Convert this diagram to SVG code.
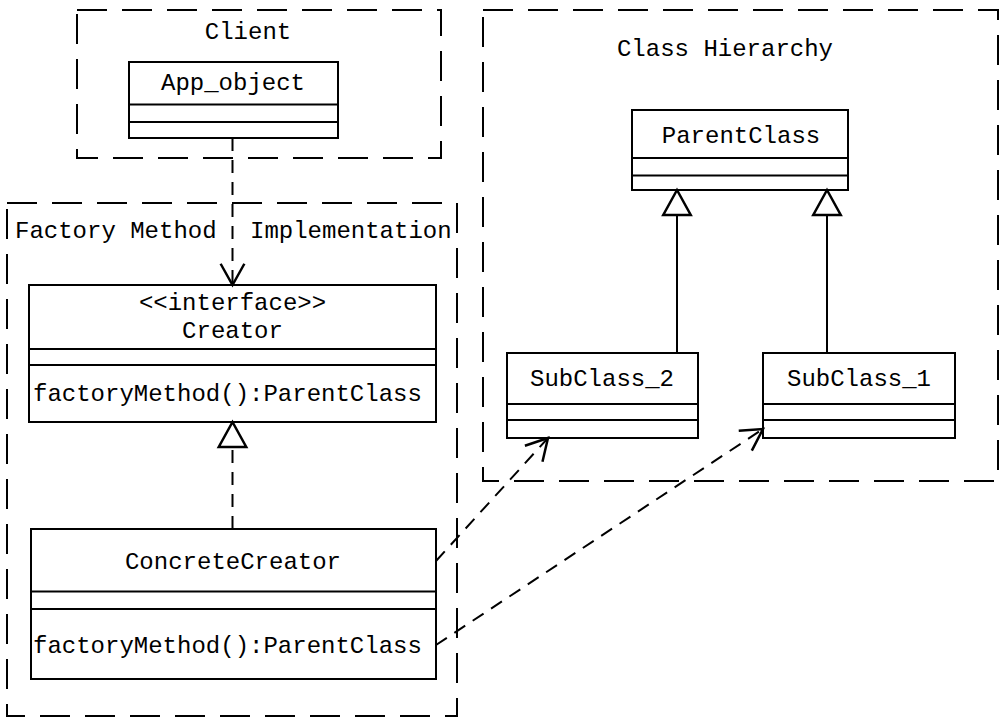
<svg xmlns="http://www.w3.org/2000/svg" width="1002" height="718" viewBox="0 0 1002 718">
<style>
  .frame { fill: none; stroke: #000; stroke-width: 2; stroke-dasharray: 30 15; }
  .box { fill: #fff; stroke: #000; stroke-width: 2; }
  .div { stroke: #000; stroke-width: 2; }
  .t { font-family: "Liberation Mono", "Courier New", monospace; font-size: 24px; fill: #000; }
  .c { text-anchor: middle; }
  .dash { fill: none; stroke: #000; stroke-width: 2; stroke-dasharray: 13 9; }
  .solid { fill: none; stroke: #000; stroke-width: 2; }
</style>
<defs>
  <marker id="open" markerUnits="userSpaceOnUse" markerWidth="30" markerHeight="30" viewBox="-20 -12 24 24" refX="0" refY="0" orient="auto" overflow="visible">
    <path d="M-17 -9.5 L0 0 L-17 9.5" fill="none" stroke="#000" stroke-width="2" stroke-dasharray="none"/>
  </marker>
  <marker id="tri" markerUnits="userSpaceOnUse" markerWidth="30" markerHeight="30" viewBox="-22 -12 24 24" refX="0" refY="0" orient="auto" overflow="visible">
    <path d="M0 0 L-20 -11 L-20 11 Z" fill="#fff" stroke="#000" stroke-width="2" stroke-dasharray="none"/>
  </marker>
</defs>

<g id="frames">
  <g id="frame-client">
    <rect class="frame" x="77" y="10" width="364" height="148"/>
    <text class="t c" x="248" y="39">Client</text>
  </g>
  <g id="frame-factory">
    <rect class="frame" x="7" y="203" width="450" height="513"/>
    <text class="t" y="238"><tspan x="15">Factory Method</tspan><tspan x="250">Implementation</tspan></text>
  </g>
  <g id="frame-hierarchy">
    <rect class="frame" x="483" y="10" width="515" height="471"/>
    <text class="t c" x="725" y="56">Class Hierarchy</text>
  </g>
</g>

<g id="App_object">
  <rect class="box" x="129" y="62" width="209" height="76"/>
  <line class="div" x1="129" y1="104.5" x2="338" y2="104.5"/>
  <line class="div" x1="129" y1="122" x2="338" y2="122"/>
  <text class="t c" x="233" y="90">App_object</text>
</g>

<g id="Creator">
  <rect class="box" x="29" y="285" width="407" height="137"/>
  <line class="div" x1="29" y1="349" x2="436" y2="349"/>
  <line class="div" x1="29" y1="365" x2="436" y2="365"/>
  <text class="t c" x="232.5" y="310">&lt;&lt;interface&gt;&gt;</text>
  <text class="t c" x="232.5" y="338">Creator</text>
  <text class="t" x="33" y="401">factoryMethod():ParentClass</text>
</g>

<g id="ConcreteCreator">
  <rect class="box" x="31" y="529" width="405" height="150"/>
  <line class="div" x1="31" y1="591.5" x2="436" y2="591.5"/>
  <line class="div" x1="31" y1="609" x2="436" y2="609"/>
  <text class="t c" x="233" y="569">ConcreteCreator</text>
  <text class="t" x="33" y="653">factoryMethod():ParentClass</text>
</g>

<g id="ParentClass">
  <rect class="box" x="632" y="110" width="216" height="80"/>
  <line class="div" x1="632" y1="158" x2="848" y2="158"/>
  <line class="div" x1="632" y1="175.5" x2="848" y2="175.5"/>
  <text class="t c" x="741" y="143">ParentClass</text>
</g>

<g id="SubClass_2">
  <rect class="box" x="507" y="353" width="191" height="85"/>
  <line class="div" x1="507" y1="404" x2="698" y2="404"/>
  <line class="div" x1="507" y1="420" x2="698" y2="420"/>
  <text class="t c" x="602" y="386">SubClass_2</text>
</g>

<g id="SubClass_1">
  <rect class="box" x="763" y="353" width="192" height="85"/>
  <line class="div" x1="763" y1="404" x2="955" y2="404"/>
  <line class="div" x1="763" y1="420" x2="955" y2="420"/>
  <text class="t c" x="859" y="386">SubClass_1</text>
</g>

<g id="connectors">
  <line class="dash" x1="232.5" y1="138" x2="232.5" y2="285" marker-end="url(#open)"/>
  <line class="dash" x1="232.5" y1="529" x2="232.5" y2="422" marker-end="url(#tri)"/>
  <line class="solid" x1="677" y1="353" x2="677" y2="190" marker-end="url(#tri)"/>
  <line class="solid" x1="827" y1="353" x2="827" y2="190" marker-end="url(#tri)"/>
  <line class="dash" x1="436" y1="561" x2="548" y2="438" marker-end="url(#open)"/>
  <line class="dash" x1="436" y1="645" x2="763" y2="429" marker-end="url(#open)"/>
</g>
</svg>
